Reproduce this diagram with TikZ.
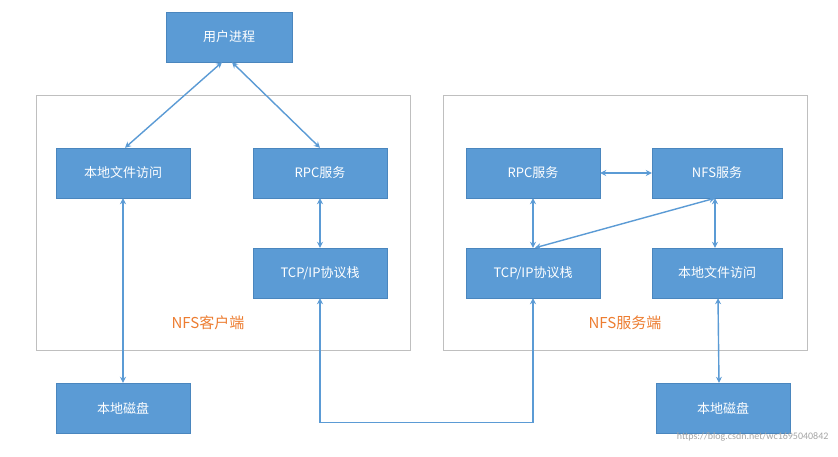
\documentclass[tikz,border=0pt]{standalone}
\usepackage{fontspec}
\setmainfont{Carlito}
\newfontfamily\cjk{Noto Sans CJK SC}
\usetikzlibrary{arrows.meta}
\definecolor{bx}{HTML}{5B9BD5}
\definecolor{bxd}{HTML}{4A86BE}
\definecolor{org}{HTML}{ED7D31}
\begin{document}
\begin{tikzpicture}[x=1pt,y=-1pt,
  box/.style={draw=bxd,fill=bx,text=white,minimum width=134pt,minimum height=50pt,font=\cjk\fontsize{13}{15}\selectfont,inner sep=0pt},
  frame/.style={draw=black!25,line width=0.6pt},
  con/.style={draw=bx,line width=1.4pt,{Stealth[length=6pt,width=6pt]}-{Stealth[length=6pt,width=6pt]}},
  lab/.style={text=org,font=\cjk\fontsize{15}{18}\selectfont}]
\useasboundingbox (0,0) rectangle (838,456);
\fill[white] (0,0) rectangle (838,456);
\draw[frame] (36,95) rectangle (410,350);
\draw[frame] (443,95) rectangle (807,350);
\node[box,minimum width=126pt] (user) at (229,37) {用户进程};
\node[box] (clf) at (123,173) {本地文件访问};
\node[box] (crpc) at (320,173) {RPC服务};
\node[box] (ctcp) at (320,273) {TCP/IP协议栈};
\node[box] (cdisk) at (123,408) {本地磁盘};
\node[box] (srpc) at (533,173) {RPC服务};
\node[box,minimum width=130pt] (snfs) at (717,173) {NFS服务};
\node[box] (stcp) at (533,273) {TCP/IP协议栈};
\node[box,minimum width=130pt] (slf) at (717,273) {本地文件访问};
\node[box] (sdisk) at (723,408) {本地磁盘};
\node[lab] (lc) at (208,323) {NFS客户端};
\node[lab] (ls) at (625,323) {NFS服务端};
\node[text=black!35,font=\fontsize{10}{12}\selectfont,anchor=east] (wm) at (832,437) {https://blog.csdn.net/wc1695040842};
\draw[con] ([xshift=-7pt]user.south) -- ([xshift=2pt]clf.north);
\draw[con] ([xshift=3pt]user.south) -- (crpc.north);
\draw[con] (clf.south) -- (cdisk.north);
\draw[con] (crpc.south) -- (ctcp.south |- ctcp.north);
\draw[con] (ctcp.south) -- ++(0,124) -| (stcp.south);
\draw[con] (srpc.east) -- (snfs.west);
\draw[con] (srpc.south) -- (stcp.north);
\draw[con] ([xshift=-2pt]snfs.south) -- ([xshift=2pt]stcp.north);
\draw[con] ([xshift=-2pt]snfs.south) -- ([xshift=-2pt]slf.north);
\draw[con] ([xshift=1pt]slf.south) -- ([xshift=-4pt]sdisk.north);
\end{tikzpicture}
\end{document}
